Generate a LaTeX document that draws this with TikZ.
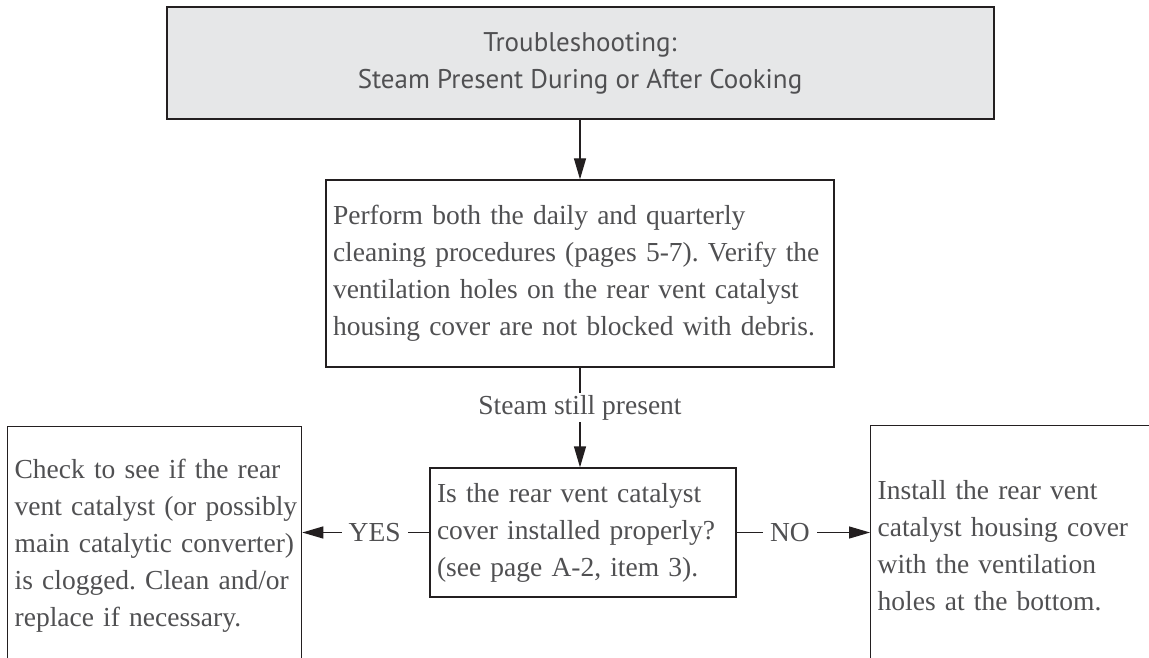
\documentclass[tikz,border=0pt]{standalone}
\usepackage{fontspec}
\setmainfont{Liberation Serif}
\newfontfamily\titlefont{PT Sans}
\usetikzlibrary{arrows.meta}
\definecolor{txtgray}{HTML}{505052}
\definecolor{linecol}{HTML}{231F20}
\definecolor{titlefill}{HTML}{E6E7E8}
\newcommand\tline[1]{\mbox{#1}}
\frenchspacing
\begin{document}
\begin{tikzpicture}[x=1pt,y=-1pt,
  box/.style={draw=linecol, line width=1.3pt, inner xsep=7pt, inner ysep=0pt,
    font=\fontsize{27.5}{37}\selectfont, text=txtgray, align=left},
  conn/.style={draw=linecol, line width=1.3pt, -{Triangle[length=21pt,width=12pt]}},
  lbl/.style={fill=white, text=txtgray, font=\fontsize{27.5}{37}\selectfont,
    inner xsep=7pt, inner ysep=2pt}]
\useasboundingbox (0,0) rectangle (1149,658);
\clip (0,0) rectangle (1149,658);
\fill[white] (0,0) rectangle (1149,658);

\node[draw=linecol, line width=2pt, fill=titlefill, minimum width=827pt,
  minimum height=112pt, inner sep=0pt, text=txtgray, align=center,
  font=\titlefont\fontsize{27}{37}\selectfont] (title) at (580,63)
  {Troubleshooting:\\Steam Present During or After Cooking};

\node[box, text width=494pt, minimum height=187pt] (clean) at (580,273.5)
  {\tline{Perform both the daily and quarterly}\\
   \tline{cleaning procedures (pages 5-7). Verify the}\\
   \tline{ventilation holes on the rear vent catalyst}\\
   \tline{housing cover are not blocked with debris.}};

\node[box, text width=292pt, minimum height=129pt] (check) at (583,532.5)
  {\tline{Is the rear vent catalyst}\\
   \tline{cover installed properly?}\\
   \tline{(see page A-2, item 3).}};

\node[box, text width=280pt, minimum height=238pt, anchor=north west] (yesbox) at (7,426)
  {\tline{Check to see if the rear}\\
   \tline{vent catalyst (or possibly}\\
   \tline{main catalytic converter)}\\
   \tline{is clogged. Clean and/or}\\
   \tline{replace if necessary.}};

\node[box, text width=270pt, minimum height=240pt, anchor=north west] (nobox) at (870,425)
  {\tline{Install the rear vent}\\
   \tline{catalyst housing cover}\\
   \tline{with the ventilation}\\
   \tline{holes at the bottom.}};

\draw[conn] (title.south) -- (clean.north);
\draw[conn] (clean.south) -- node[lbl, pos=0.4] (steam) {Steam still present} (clean.south |- check.north);
\draw[conn] (check.west) -- node[lbl, pos=0.43] (yes) {YES} (check.west -| yesbox.east);
\draw[conn] (check.east) -- node[lbl, pos=0.40] (no) {NO} (check.east -| nobox.west);
\end{tikzpicture}
\end{document}
